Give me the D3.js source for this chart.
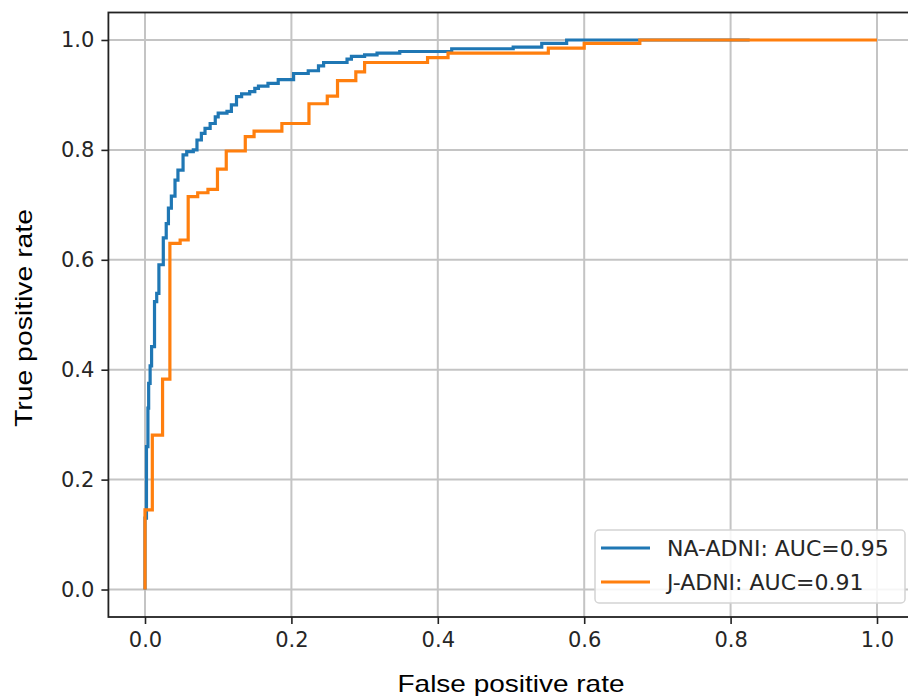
<!DOCTYPE html>
<html>
<head>
<meta charset="utf-8">
<script src="https://cdn.jsdelivr.net/npm/d3@7"></script>
<style>
  html, body { margin: 0; padding: 0; background: #fff; }
  svg { display: block; }
</style>
</head>
<body>
<svg id="chart" width="908" height="696"></svg>
<script>
// ---- data (ROC step vertices: fpr, tpr) ----
const naAdniFpr = [0, 0, 0.002, 0.004, 0.005, 0.007, 0.009, 0.013, 0.016, 0.019, 0.025, 0.029, 0.032, 0.036, 0.041, 0.045, 0.052, 0.057, 0.066, 0.071, 0.077, 0.082, 0.089, 0.096, 0.100, 0.112, 0.118, 0.125, 0.132, 0.143, 0.150, 0.155, 0.168, 0.182, 0.203, 0.223, 0.237, 0.244, 0.276, 0.282, 0.300, 0.317, 0.348, 0.419, 0.503, 0.542, 0.576, 0.826];
const naAdniTpr = [0, 0.13, 0.26, 0.330, 0.375, 0.407, 0.442, 0.524, 0.539, 0.591, 0.640, 0.666, 0.694, 0.716, 0.745, 0.763, 0.791, 0.797, 0.800, 0.818, 0.830, 0.839, 0.848, 0.860, 0.867, 0.870, 0.882, 0.897, 0.902, 0.906, 0.912, 0.916, 0.921, 0.928, 0.939, 0.944, 0.953, 0.959, 0.965, 0.970, 0.973, 0.976, 0.979, 0.984, 0.987, 0.994, 1.0, 1.0];
const jAdniFpr = [0, 0, 0.010, 0.024, 0.034, 0.048, 0.059, 0.072, 0.086, 0.099, 0.111, 0.137, 0.149, 0.187, 0.224, 0.249, 0.263, 0.288, 0.300, 0.386, 0.414, 0.551, 0.600, 0.676, 1.0];
const jAdniTpr = [0, 0.145, 0.281, 0.383, 0.630, 0.636, 0.715, 0.722, 0.728, 0.765, 0.798, 0.824, 0.834, 0.848, 0.884, 0.898, 0.926, 0.942, 0.959, 0.968, 0.976, 0.985, 0.994, 1.0, 1.0];

const seriesNames = ["NA-ADNI: AUC=0.95", "J-ADNI: AUC=0.91"];
const seriesColors = ["#1f77b4", "#ff7f0e"];
const tickValues = [0.0, 0.2, 0.4, 0.6, 0.8, 1.0];
const xLabel = "False positive rate";
const yLabel = "True positive rate";

// ---- layout ----
const svg = d3.select("#chart");
const x = d3.scaleLinear().domain([-0.05, 1.05]).range([108.4, 913.6]);
const y = d3.scaleLinear().domain([-0.05, 1.05]).range([617, 12.5]);
const textColor = "#262626";

// grid
const grid = svg.append("g");
grid.selectAll("line.vx").data(tickValues).join("line")
  .attr("x1", d => x(d)).attr("x2", d => x(d))
  .attr("y1", y.range()[1]).attr("y2", y.range()[0])
  .attr("stroke", "#c4c4c4").attr("stroke-width", 2);
grid.selectAll("line.hy").data(tickValues).join("line")
  .attr("y1", d => y(d)).attr("y2", d => y(d))
  .attr("x1", x.range()[0]).attr("x2", x.range()[1])
  .attr("stroke", "#c4c4c4").attr("stroke-width", 2);

// curves
const series = [
  naAdniFpr.map((f, i) => [f, naAdniTpr[i]]),
  jAdniFpr.map((f, i) => [f, jAdniTpr[i]])
];
const line = d3.line().x(d => x(d[0])).y(d => y(d[1])).curve(d3.curveStepAfter);
series.forEach((s, i) => {
  svg.append("path").datum(s)
    .attr("d", line)
    .attr("fill", "none")
    .attr("stroke", seriesColors[i])
    .attr("stroke-width", 3.2)
    .attr("stroke-linejoin", "miter");
});

// axes
const fmt = d3.format(".1f");
const xAxis = svg.append("g").attr("transform", `translate(0,${y.range()[0]})`)
  .call(d3.axisBottom(x).tickValues(tickValues).tickFormat(fmt).tickSize(7).tickPadding(8));
const yAxis = svg.append("g").attr("transform", `translate(${x.range()[0]},0)`)
  .call(d3.axisLeft(y).tickValues(tickValues).tickFormat(fmt).tickSize(7).tickPadding(7));
[xAxis, yAxis].forEach(a => {
  a.select(".domain").remove();
  a.selectAll(".tick line").attr("stroke", "#222").attr("stroke-width", 1.6);
  a.selectAll(".tick text").attr("fill", textColor)
    .style("font-family", "'DejaVu Sans', sans-serif").style("font-size", "21px");
});

// frame
svg.append("rect")
  .attr("x", x.range()[0]).attr("y", y.range()[1])
  .attr("width", x.range()[1] - x.range()[0])
  .attr("height", y.range()[0] - y.range()[1])
  .attr("fill", "none").attr("stroke", "#222").attr("stroke-width", 1.8);

// axis labels
svg.append("text").text(xLabel)
  .attr("x", 511).attr("y", 692)
  .attr("text-anchor", "middle")
  .attr("textLength", 227).attr("lengthAdjust", "spacingAndGlyphs")
  .style("font-family", "'Liberation Sans', Arial, sans-serif").style("font-size", "24px")
  .attr("fill", "#000");
svg.append("text").text(yLabel)
  .attr("transform", "translate(32,318) rotate(-90)")
  .attr("text-anchor", "middle")
  .attr("textLength", 218).attr("lengthAdjust", "spacingAndGlyphs")
  .style("font-family", "'Liberation Sans', Arial, sans-serif").style("font-size", "24px")
  .attr("fill", "#000");

// legend
const lg = svg.append("g");
lg.append("rect").attr("x", 595).attr("y", 530).attr("width", 310).attr("height", 73)
  .attr("rx", 4).attr("fill", "#fff").attr("fill-opacity", 0.85)
  .attr("stroke", "#d4d4d4").attr("stroke-width", 1.5);
seriesNames.forEach((n, i) => {
  const yy = 548 + i * 34;
  lg.append("line").attr("x1", 601).attr("x2", 650).attr("y1", yy).attr("y2", yy)
    .attr("stroke", seriesColors[i]).attr("stroke-width", 3.2);
  lg.append("text").text(n).attr("x", 667).attr("y", yy + 8)
    .attr("fill", textColor)
    .style("font-family", "'DejaVu Sans', sans-serif").style("font-size", "22px");
});
</script>
</body>
</html>
